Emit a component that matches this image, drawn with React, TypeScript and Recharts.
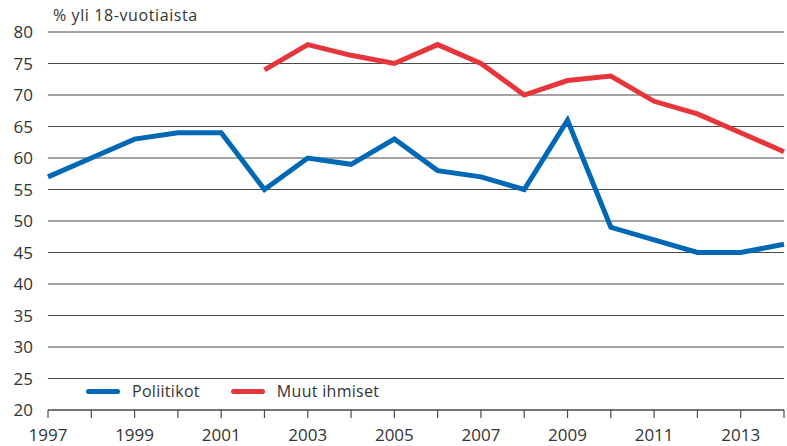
import React from 'react';
import { LineChart, Line, XAxis, YAxis, CartesianGrid } from 'recharts';

const years = [1997, 1998, 1999, 2000, 2001, 2002, 2003, 2004, 2005, 2006, 2007, 2008, 2009, 2010, 2011, 2012, 2013, 2014];
const poliitikot = [57, 60, 63, 64, 64, 55, 60, 59, 63, 58, 57, 55, 66, 49, 47, 45, 45, 46.3];
const muutIhmiset = [null, null, null, null, null, 74, 78, 76.3, 75, 78, 75, 70, 72.3, 73, 69, 67, 64, 61];
const yTicks = [20, 25, 30, 35, 40, 45, 50, 55, 60, 65, 70, 75, 80];
const labelledYears = [1997, 1999, 2001, 2003, 2005, 2007, 2009, 2011, 2013];

const BLUE = '#0068b4';
const RED = '#e6363c';
const GRID = '#4a4a4a';
const FONT = '"Open Sans", "Noto Sans", sans-serif';

const data = years.map((year, i) => ({
  year,
  poliitikot: poliitikot[i],
  muut: muutIhmiset[i],
}));

const legendItems = [
  { label: 'Poliitikot', color: BLUE },
  { label: 'Muut ihmiset', color: RED },
];

const App: React.FC = () => {
  return (
    <div style={{ position: 'absolute', left: 0, top: 0, width: 787, height: 446, background: '#fff' }}>
      <div
        style={{
          position: 'absolute',
          left: 53,
          top: 4,
          fontFamily: FONT,
          fontSize: 16,
          letterSpacing: 0.6,
          color: '#333',
        }}
      >
        % yli 18-vuotiaista
      </div>
      <LineChart width={787} height={446} data={data} margin={{ top: 32, right: 3, left: 0, bottom: 6 }}>
        <CartesianGrid vertical={false} stroke={GRID} strokeWidth={1.2} />
        <XAxis
          dataKey="year"
          type="number"
          domain={[1997, 2014]}
          ticks={years}
          interval={0}
          height={30}
          tickSize={8}
          tickMargin={11}
          tickFormatter={(v: number) => (labelledYears.includes(v) ? String(v) : '')}
          axisLine={{ stroke: GRID, strokeWidth: 1.2 }}
          tickLine={{ stroke: GRID, strokeWidth: 1.2 }}
          tick={{ fill: '#333', fontSize: 17, fontFamily: FONT }}
        />
        <YAxis
          domain={[20, 80]}
          ticks={yTicks}
          interval={0}
          width={48}
          tickSize={7}
          tickMargin={8}
          axisLine={false}
          tickLine={false}
          tick={{ fill: '#333', fontSize: 17, fontFamily: FONT }}
        />
        <Line
          dataKey="poliitikot"
          stroke={BLUE}
          strokeWidth={5}
          dot={false}
          isAnimationActive={false}
          strokeLinejoin="miter"
        />
        <Line
          dataKey="muut"
          stroke={RED}
          strokeWidth={5}
          dot={false}
          isAnimationActive={false}
          connectNulls={false}
          strokeLinejoin="miter"
        />
      </LineChart>
      <div
        style={{
          position: 'absolute',
          left: 86,
          top: 380,
          display: 'flex',
          alignItems: 'center',
          fontFamily: FONT,
          fontSize: 16,
          letterSpacing: 0.3,
          color: '#333',
        }}
      >
        {legendItems.map((item) => (
          <div key={item.label} style={{ display: 'flex', alignItems: 'center', marginRight: 31 }}>
            <span
              style={{
                display: 'inline-block',
                width: 34,
                height: 5,
                borderRadius: 3,
                background: item.color,
                marginRight: 12,
              }}
            />
            <span>{item.label}</span>
          </div>
        ))}
      </div>
    </div>
  );
};

export default App;
